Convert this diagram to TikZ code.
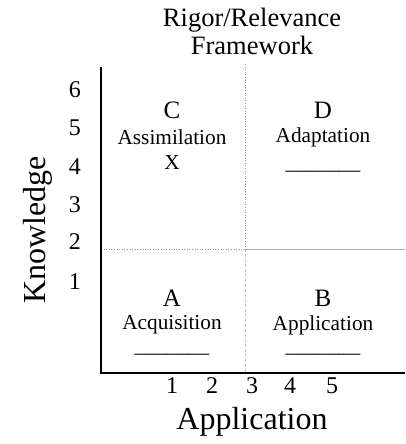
\documentclass[tikz,border=0pt]{standalone}
\usepackage{fontspec}
\setmainfont{Liberation Serif}
\usepackage{tikz}

\newcommand{\axisfont}{\fontsize{32}{36}\selectfont}
\newcommand{\titlefont}{\fontsize{26.5}{30}\selectfont}
\newcommand{\numfont}{\fontsize{24}{27}\selectfont}
\newcommand{\letterfont}{\fontsize{25}{28}\selectfont}
\newcommand{\wordfont}{\fontsize{21.3}{24}\selectfont}

\begin{document}
\begin{tikzpicture}[x=1pt,y=1pt,
	num/.style={font=\numfont,inner sep=0pt},
	letter/.style={font=\letterfont,inner sep=0pt},
	word/.style={font=\wordfont,inner sep=0pt},
	blank/.style={font=\wordfont,inner sep=0pt,anchor=base}]

	\useasboundingbox (-101,-71) rectangle (305,373);
%	\draw[gray,step=10] (-101,-71) grid (305,373);

	% title
	\node [font=\titlefont,inner sep=0pt] (title1) at (151,353) {Rigor/Relevance};
	\node [font=\titlefont,inner sep=0pt] (title2) at (151,328) {Framework};

	% quadrant dividers
	\draw[gray!80, dotted, semithick] (144,309) -- (144,124);
	\draw[gray!50, densely dashed, semithick] (144,124) -- (144,0);
	\draw[gray!80, dotted, semithick] (0,124) -- (144,124);
	\draw[gray!60, semithick] (144,124) -- (304,124);

	% axes
	\draw[line width=2.2pt] (0,306) -- (0,0) -- (304,0);

	% knowledge scale
	\node [num] (k6) at (-26,283) {6};
	\node [num] (k5) at (-26,245) {5};
	\node [num] (k4) at (-26,206) {4};
	\node [num] (k3) at (-26,168) {3};
	\node [num] (k2) at (-26,131) {2};
	\node [num] (k1) at (-26,91) {1};
	\node [font=\axisfont,inner sep=0pt,rotate=90] (knowledge) at (-63,143) {Knowledge};

	% application scale
	\node [num] (a1) at (71,-13) {1};
	\node [num] (a2) at (111,-13) {2};
	\node [num] (a3) at (151,-13) {3};
	\node [num] (a4) at (189,-13) {4};
	\node [num] (a5) at (231,-13) {5};
	\node [font=\axisfont,inner sep=0pt] (application) at (151,-49) {Application};

	% quadrants
	\node [letter] (C) at (71,263) {C};
	\node [word] (Cname) at (71,236) {Assimilation};
	\node [word] (Cmark) at (71,210) {X};

	\node [letter] (D) at (222,263) {D};
	\node [word] (Dname) at (222,236) {Adaptation};
	\node [blank] (Dmark) at (222,203) {\_\_\_\_\_\_\_};

	\node [letter] (A) at (71,75) {A};
	\node [word] (Aname) at (71,48) {Acquisition};
	\node [blank] (Amark) at (71,20) {\_\_\_\_\_\_\_};

	\node [letter] (B) at (222,75) {B};
	\node [word] (Bname) at (222,48) {Application};
	\node [blank] (Bmark) at (222,20) {\_\_\_\_\_\_\_};

\end{tikzpicture}
\end{document}
